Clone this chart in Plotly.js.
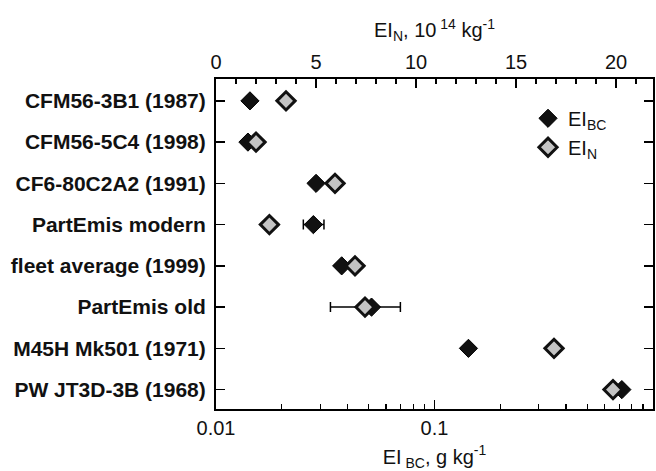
<!DOCTYPE html>
<html>
<head>
<meta charset="utf-8">
<script src="https://cdn.plot.ly/plotly-3.0.1.min.js"></script>
<style>html,body{margin:0;padding:0;background:#fff;}#chart{width:656px;height:471px;}</style>
</head>
<body>
<div id="chart"></div>
<script>
const categories = ["CFM56-3B1 (1987)", "CFM56-5C4 (1998)", "CF6-80C2A2 (1991)", "PartEmis modern",
  "fleet average (1999)", "PartEmis old", "M45H Mk501 (1971)", "PW JT3D-3B (1968)"];
// EI_BC, g/kg (bottom log axis)
const eiBC = [0.0143, 0.0140, 0.0287, 0.0279, 0.0376, 0.0515, 0.143, 0.72];
// error range for EI_BC (null = no error bar)
const eiBCLow  = [null, null, null, 0.0251, null, 0.0334, null, null];
const eiBCHigh = [null, null, null, 0.0312, null, 0.0698, null, null];
// EI_N, 10^14 /kg (top linear axis)
const eiN = [3.5, 2.0, 5.95, 2.67, 6.95, 7.45, 16.9, 19.85];

const bottomTicks = [0.01, 0.1, 1];
const bottomTickText = ["0.01", "0.1", "1"];
const bottomMinor = [0.02,0.03,0.04,0.05,0.06,0.07,0.08,0.09,0.2,0.3,0.4,0.5,0.6,0.7,0.8,0.9];

const errPlus = eiBC.map((v, i) => eiBCHigh[i] == null ? NaN : eiBCHigh[i] - v);
const errMinus = eiBC.map((v, i) => eiBCLow[i] == null ? NaN : v - eiBCLow[i]);

const FONT = "Liberation Sans, Arial, sans-serif";

const traces = [
  {
    type: "scatter", mode: "markers", name: "EI<sub>BC</sub>",
    x: eiBC, y: categories, xaxis: "x", yaxis: "y",
    marker: {symbol: "diamond", size: 14, color: "#111111", line: {color: "#000", width: 1}},
    error_x: {type: "data", symmetric: false, array: errPlus, arrayminus: errMinus,
      color: "#000", thickness: 1.5, width: 5}
  },
  {
    type: "scatter", mode: "markers", name: "EI<sub>N</sub>",
    x: eiN, y: categories, xaxis: "x2", yaxis: "y",
    marker: {symbol: "diamond", size: 14, color: "#c4c4c4", line: {color: "#111", width: 3}}
  }
];

const axisCommon = {
  showline: true, linecolor: "#000", linewidth: 2, showgrid: false, zeroline: false,
  ticks: "inside", tickcolor: "#000", tickwidth: 1.5, ticklen: 9,
  tickfont: {family: FONT, size: 20, color: "#111"}
};

const layout = {
  width: 656, height: 471,
  margin: {l: 216, r: 3, t: 79, b: 62},
  paper_bgcolor: "#fff", plot_bgcolor: "#fff",
  font: {family: FONT, color: "#111"},
  showlegend: true,
  legend: {x: 0.714, y: 0.94, xanchor: "left", yanchor: "top", bgcolor: "rgba(0,0,0,0)",
    font: {family: FONT, size: 20, color: "#111"}},
  xaxis: Object.assign({}, axisCommon, {
    type: "log", range: [-2, 0], tickmode: "array", tickvals: bottomTicks, ticktext: bottomTickText,
    minor: {tickmode: "array", tickvals: bottomMinor, ticks: "inside", ticklen: 5, tickcolor: "#000", tickwidth: 1.2},
    title: {text: "EI<sub> BC</sub>, g kg<sup>-1</sup>", font: {family: FONT, size: 20, color: "#111"}, standoff: 14}
  }),
  xaxis2: Object.assign({}, axisCommon, {
    overlaying: "x", side: "top", range: [0, 21.85], tick0: 0, dtick: 5,
    minor: {dtick: 1, ticks: "inside", ticklen: 5, tickcolor: "#000", tickwidth: 1.2},
    title: {text: "EI<sub>N</sub>, 10<sup> 14</sup> kg<sup>-1</sup>", font: {family: FONT, size: 20, color: "#111"}, standoff: 8}
  }),
  yaxis: Object.assign({}, axisCommon, {
    type: "category", categoryorder: "array", categoryarray: categories,
    range: [7.47, -0.53], mirror: "ticks", ticklabelstandoff: 4,
    tickfont: {family: FONT, size: 21, color: "#111", weight: "bold"}
  })
};

Plotly.newPlot("chart", traces, layout, {displayModeBar: false, staticPlot: true});
</script>
</body>
</html>
